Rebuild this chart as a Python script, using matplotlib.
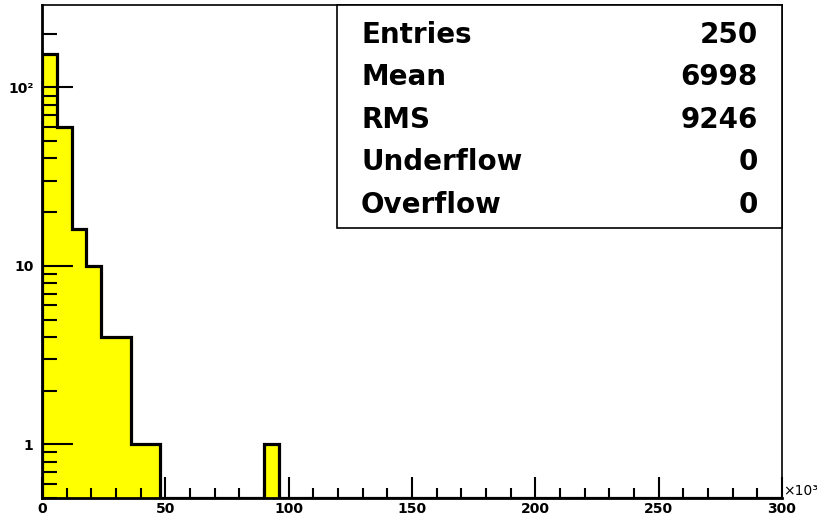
import numpy as np
import matplotlib
matplotlib.use('Agg')
import matplotlib.pyplot as plt
from matplotlib.ticker import FixedLocator, FixedFormatter, MultipleLocator, NullFormatter

# histogram: 50 bins of 6k over 0..300k
bin_edges = np.arange(0, 300001, 6000)
counts = [154, 60, 16, 10, 4, 4, 1, 1, 0, 0,
          0, 0, 0, 0, 0, 1, 0, 0, 0, 0,
          0, 0, 0, 0, 0, 0, 0, 0, 0, 0,
          0, 0, 0, 0, 0, 0, 0, 0, 0, 0,
          0, 0, 0, 0, 0, 0, 0, 0, 0, 0]
stat_names = ['Entries', 'Mean', 'RMS', 'Underflow', 'Overflow']
stat_values = ['250', '6998', '9246', '0', '0']
ytick_vals = [1, 10, 100]
ytick_labels = ['1', '10', '10\u00b2']
xtick_vals = [0, 50000, 100000, 150000, 200000, 250000, 300000]
xtick_labels = ['0', '50', '100', '150', '200', '250', '300']

plt.rcParams['font.family'] = ['DejaVu Sans']
plt.rcParams['font.weight'] = 'bold'

ymin, ymax = 0.5, 290

fig = plt.figure(figsize=(8.2, 5.21), dpi=100)
ax = fig.add_axes([42/820, 1 - 498/521, (782-42)/820, (498-5)/521])
ax.set_yscale('log')
ax.set_axisbelow(False)

vals = np.maximum(np.array(counts, dtype=float), ymin)
ax.stairs(vals, bin_edges, baseline=ymin, fill=True, color='#ffff00', zorder=2)
ax.stairs(vals, bin_edges, baseline=ymin, fill=False, color='black', lw=2.3, zorder=3)

ax.set_xlim(0, 300000)
ax.set_ylim(ymin, ymax)

ax.xaxis.set_major_locator(FixedLocator(xtick_vals))
ax.xaxis.set_major_formatter(FixedFormatter(xtick_labels))
ax.xaxis.set_minor_locator(MultipleLocator(10000))
ax.yaxis.set_major_locator(FixedLocator(ytick_vals))
ax.yaxis.set_major_formatter(FixedFormatter(ytick_labels))
minors = [m * 10**d for d in (-1, 0, 1, 2) for m in range(2, 10)]
ax.yaxis.set_minor_locator(FixedLocator(minors))
ax.yaxis.set_minor_formatter(NullFormatter())

ax.tick_params(axis='x', which='major', direction='in', length=15, width=1.5, labelsize=10, pad=3)
ax.tick_params(axis='x', which='minor', direction='in', length=7, width=1.5)
ax.tick_params(axis='y', which='major', direction='in', length=22, width=1.5, labelsize=10, pad=6)
ax.tick_params(axis='y', which='minor', direction='in', length=11, width=1.5)
for lbl in ax.get_xticklabels() + ax.get_yticklabels():
    lbl.set_fontweight('bold')

for side in ['top', 'right']:
    ax.spines[side].set_linewidth(1.2)
for side in ['left', 'bottom']:
    ax.spines[side].set_linewidth(2.0)
ax.spines['bottom'].set_zorder(4)

ax.text(1.002, 0.0, '\u00d710\u00b3', transform=ax.transAxes, ha='left', va='bottom',
        fontsize=10, fontweight='normal')

# stats box
bx0, bx1 = (337-42)/(782-42), 1.0
by0, by1 = (498-228)/(498-5), 1.0
ax.add_patch(plt.Rectangle((bx0, by0), bx1-bx0, by1-by0, transform=ax.transAxes,
                           facecolor='white', edgecolor='black', lw=1.2, zorder=5, clip_on=False))
row_base = [43, 85, 128, 170, 213]
for name, val, yp in zip(stat_names, stat_values, row_base):
    ty = (498-yp)/(498-5)
    ax.text((361-42)/(782-42), ty, name, transform=ax.transAxes, ha='left', va='baseline',
            fontsize=20, fontweight='bold', zorder=6)
    ax.text((758-42)/(782-42), ty, val, transform=ax.transAxes, ha='right', va='baseline',
            fontsize=20, fontweight='bold', zorder=6)

fig.savefig('out.png', dpi=100)
